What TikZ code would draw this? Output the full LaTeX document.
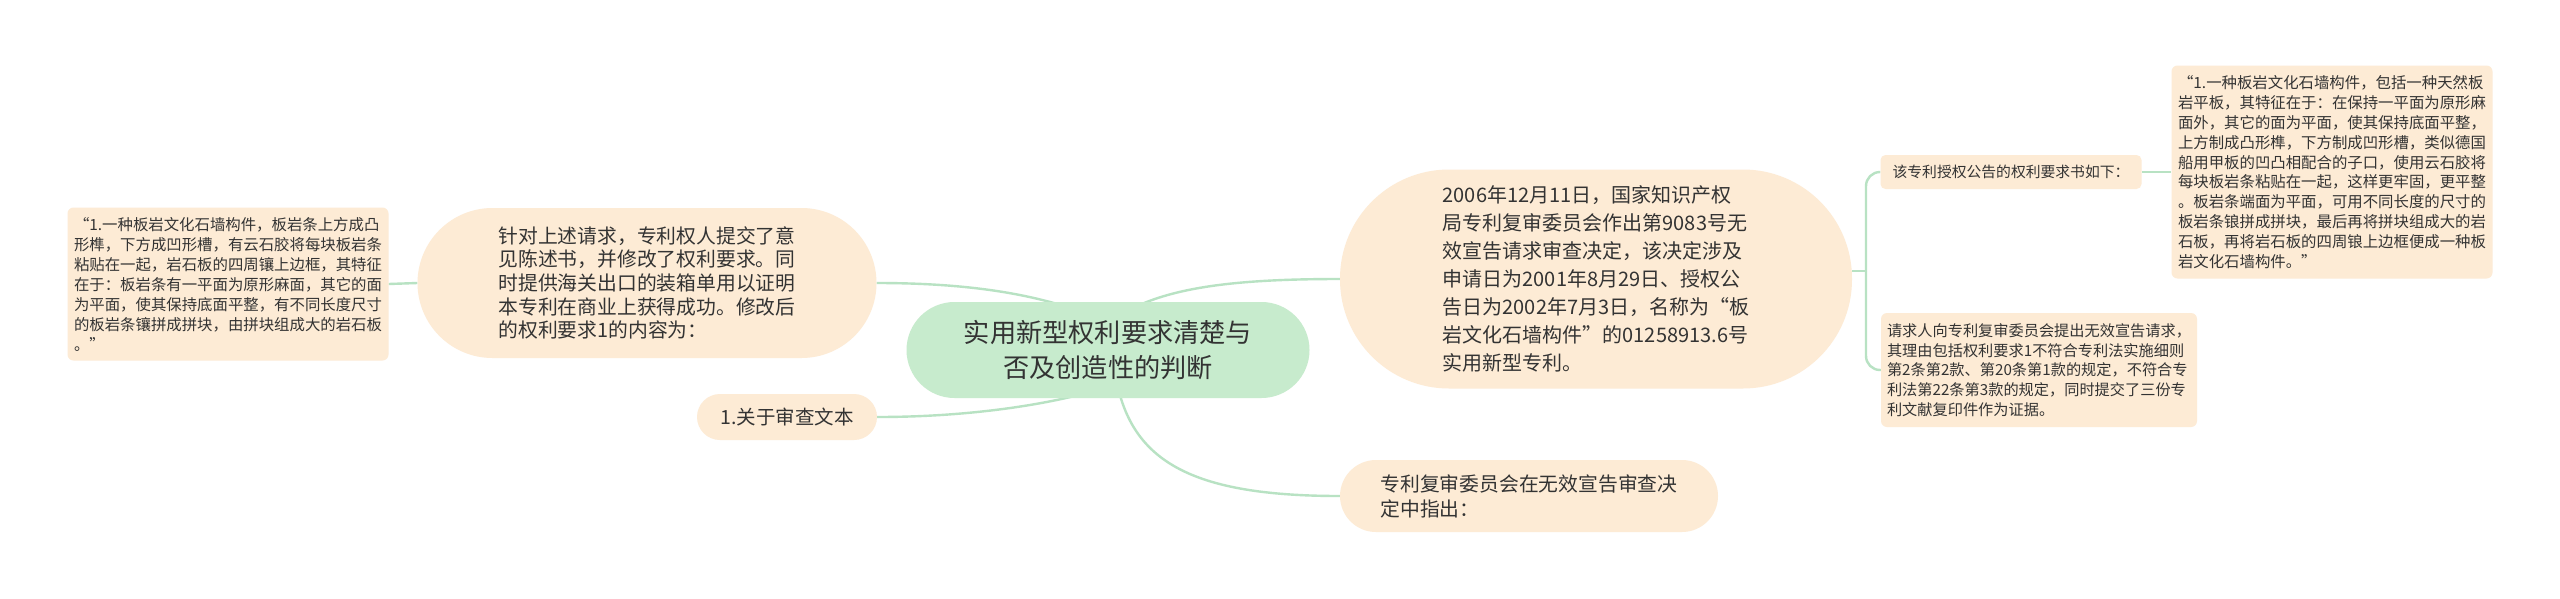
\documentclass[tikz,border=0pt]{standalone}
\usepackage{fontspec}
\setmainfont{Noto Sans CJK SC}
\usetikzlibrary{calc,backgrounds}
\definecolor{peach}{HTML}{FDEBD5}
\definecolor{mint}{HTML}{C7EBCD}
\definecolor{connc}{HTML}{B8E2C3}
\definecolor{ink}{HTML}{333333}
\newcommand\myfs[2]{\fontsize{#1pt}{#2pt}\selectfont}
\tikzset{
  pill/.style={fill=peach, text=ink, inner sep=0pt, align=left},
  card/.style={fill=peach, text=ink, inner sep=0pt, align=left, rounded corners=6pt},
  root/.style={fill=mint, text=ink, inner sep=0pt, align=center},
  link/.style={draw=connc, line width=2.4pt}
}
\begin{document}
\begin{tikzpicture}[x=1pt,y=-1pt]
\path[use as bounding box] (0,0) rectangle (2560,598);

\node[root, minimum width=403pt, minimum height=96pt, rounded corners=48pt, font=\myfs{26.2}{35}] (central) at (1108,350)
  {实用新型权利要求清楚与\\否及创造性的判断};

\node[pill, minimum width=459pt, minimum height=150pt, rounded corners=75pt, font=\myfs{19.8}{23.7}] (zhendui) at (647,283)
  {针对上述请求，专利权人提交了意\\见陈述书，并修改了权利要求。同\\时提供海关出口的装箱单用以证明\\本专利在商业上获得成功。修改后\\的权利要求1的内容为：};

\node[card, minimum width=321pt, minimum height=153pt, font=\myfs{15.4}{20}] (leftbox) at (228,284)
  {“1.一种板岩文化石墙构件，板岩条上方成凸\\形榫，下方成凹形槽，有云石胶将每块板岩条\\粘贴在一起，岩石板的四周镶上边框，其特征\\在于：板岩条有一平面为原形麻面，其它的面\\为平面，使其保持底面平整，有不同长度尺寸\\的板岩条镶拼成拼块，由拼块组成大的岩石板\\。”};

\node[pill, minimum width=180pt, minimum height=46pt, rounded corners=23pt, font=\myfs{19.5}{24}] (guanyu) at (787,417)
  {1.关于审查文本};

\node[pill, minimum width=512pt, minimum height=219pt, rounded corners=109pt, font=\myfs{20}{28}] (bignode) at (1596,279)
  {2006年12月11日，国家知识产权\\局专利复审委员会作出第9083号无\\效宣告请求审查决定，该决定涉及\\申请日为2001年8月29日、授权公\\告日为2002年7月3日，名称为“板\\岩文化石墙构件”的01258913.6号\\实用新型专利。};

\node[pill, minimum width=378pt, minimum height=72pt, rounded corners=36pt, font=\myfs{19.8}{25}] (bottom) at (1529,496)
  {专利复审委员会在无效宣告审查决\\定中指出：};

\node[card, minimum width=261pt, minimum height=34pt, rounded corners=5pt, font=\myfs{14.8}{19}] (gai) at (2011,172)
  {该专利授权公告的权利要求书如下：};

\node[card, minimum width=316pt, minimum height=114pt, font=\myfs{15.2}{19.6}] (qing) at (2039,370)
  {请求人向专利复审委员会提出无效宣告请求，\\其理由包括权利要求1不符合专利法实施细则\\第2条第2款、第20条第1款的规定，不符合专\\利法第22条第3款的规定，同时提交了三份专\\利文献复印件作为证据。};

\node[card, minimum width=321pt, minimum height=213pt, font=\myfs{15.4}{19.8}] (rightbox) at (2332,172)
  {“1.一种板岩文化石墙构件，包括一种天然板\\岩平板，其特征在于：在保持一平面为原形麻\\面外，其它的面为平面，使其保持底面平整，\\上方制成凸形榫，下方制成凹形槽，类似德国\\船用甲板的凹凸相配合的子口，使用云石胶将\\每块板岩条粘贴在一起，这样更牢固，更平整\\。板岩条端面为平面，可用不同长度的尺寸的\\板岩条锒拼成拼块，最后再将拼块组成大的岩\\石板，再将岩石板的四周锒上边框便成一种板\\岩文化石墙构件。”};

\coordinate (fork) at (1866,271);

\begin{scope}[on background layer]
  \fill[white] (0,0) rectangle (2560,598);
  \draw[link] ($(central.north)+(-48,3)$) .. controls (1010,290) and (950,283) .. (zhendui.east);
  \draw[link] ($(central.south)+(-30,-3)$) .. controls (1030,407) and (960,417) .. (guanyu.east);
  \draw[link] ($(central.north)+(32,3)$) .. controls (1185,285) and (1250,279) .. (bignode.west);
  \draw[link] ($(central.south)+(12,-3)$) .. controls (1140,465) and (1200,496) .. (bottom.west);
  \draw[link] (zhendui.west) -- (leftbox.east);
  \draw[link] (bignode.east |- fork) -- (fork);
  \draw[link, rounded corners=14pt] (fork) |- (gai.west);
  \draw[link, rounded corners=14pt] (fork) |- (qing.west);
  \draw[link] (gai.east) -- (rightbox.west);
\end{scope}
\end{tikzpicture}
\end{document}
